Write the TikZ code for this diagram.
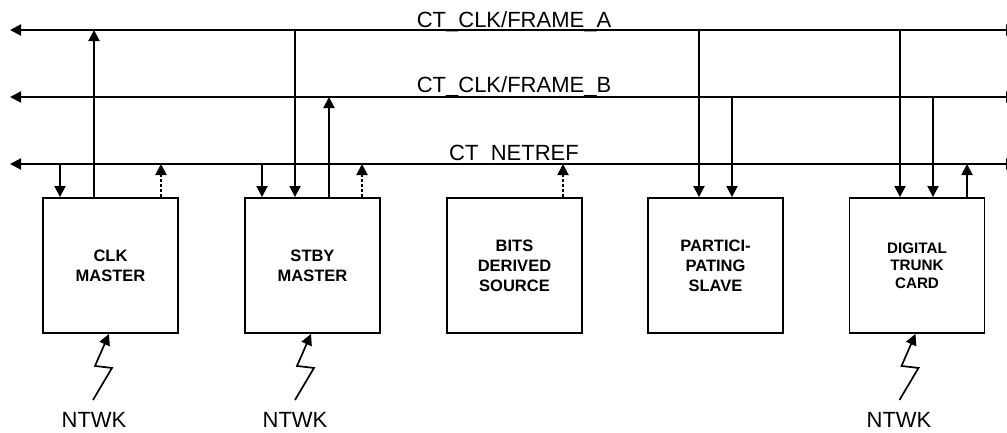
\documentclass[tikz,border=0pt]{standalone}
\usepackage{fontspec}
\setmainfont{Liberation Sans}
\usetikzlibrary{arrows.meta}
\begin{document}
\begin{tikzpicture}[x=1pt,y=-1pt,
  line width=1.9pt,
  tip/.style={-{Triangle[length=11pt,width=11pt]}},
  bustip/.style={{Triangle[length=11pt,width=11pt]}-{Triangle[length=11pt,width=11pt]}},
  card/.style={draw, minimum width=135pt, minimum height=135pt, inner sep=0pt, align=center, font=\fontsize{16.5}{20}\selectfont\bfseries},
  smallcard/.style={card, font=\fontsize{15.2}{17.5}\selectfont\bfseries},
  buslabel/.style={anchor=base, font=\fontsize{22}{26}\selectfont, inner sep=0pt},
  dashtip/.style={tip, dash pattern=on 3pt off 2pt},
  bolt/.style={tip, line width=1.7pt, line join=miter}
]
\useasboundingbox (0,0) rectangle (1007,432);
\clip (0,0) rectangle (1007,432);

% buses
\coordinate (AL) at (10,30);  \coordinate (AR) at (1017,30);
\coordinate (BL) at (10,97);  \coordinate (BR) at (1017,97);
\coordinate (NL) at (10,164); \coordinate (NR) at (1017,164);
\draw[bustip] (AL) -- (AR);
\draw[bustip] (BL) -- (BR);
\draw[bustip] (NL) -- (NR);

\node[buslabel] (la) at (514,27) {CT\_CLK/FRAME\_A};
\node[buslabel] (lb) at (514,92) {CT\_CLK/FRAME\_B};
\node[buslabel] (ln) at (514,160.5) {CT\_NETREF};

% cards
\node[card] (c1) at (110.5,265.5) {CLK\\MASTER};
\node[card] (c2) at (312.5,265.5) {STBY\\MASTER};
\node[card] (c3) at (514.5,265.5) {BITS\\DERIVED\\SOURCE};
\node[card] (c4) at (715.5,265.5) {PARTICI-\\PATING\\SLAVE};
\node[smallcard] (c5) at (917,265.5) {DIGITAL\\TRUNK\\CARD};

% connection points on card tops
\coordinate (t1a) at ([xshift=-50.5pt]c1.north);
\coordinate (t1b) at ([xshift=-16.5pt]c1.north);
\coordinate (t1c) at ([xshift=50.5pt]c1.north);
\coordinate (t2a) at ([xshift=-50.5pt]c2.north);
\coordinate (t2b) at ([xshift=-17.5pt]c2.north);
\coordinate (t2c) at ([xshift=16.5pt]c2.north);
\coordinate (t2d) at ([xshift=49.5pt]c2.north);
\coordinate (t3a) at ([xshift=48.5pt]c3.north);
\coordinate (t4a) at ([xshift=-16.5pt]c4.north);
\coordinate (t4b) at ([xshift=16.5pt]c4.north);
\coordinate (t5a) at ([xshift=-17pt]c5.north);
\coordinate (t5b) at ([xshift=16pt]c5.north);
\coordinate (t5c) at ([xshift=50pt]c5.north);

% card 1
\draw[tip] (t1a |- NL) -- (t1a);
\draw[tip] (t1b) -- (t1b |- AL);
\draw[dashtip] (t1c) -- (t1c |- NL);
% card 2
\draw[tip] (t2a |- NL) -- (t2a);
\draw[tip] (t2b |- AL) -- (t2b);
\draw[tip] (t2c) -- (t2c |- BL);
\draw[dashtip] (t2d) -- (t2d |- NL);
% card 3
\draw[dashtip] (t3a) -- (t3a |- NL);
% card 4
\draw[tip] (t4a |- AL) -- (t4a);
\draw[tip] (t4b |- BL) -- (t4b);
% card 5
\draw[tip] (t5a |- AL) -- (t5a);
\draw[tip] (t5b |- BL) -- (t5b);
\draw[tip] (t5c) -- (t5c |- NL);

% network links
\coordinate (z1) at ([xshift=-17.5pt,yshift=-66pt]c1.south);
\coordinate (z2) at ([xshift=-17.5pt,yshift=-66pt]c2.south);
\coordinate (z5) at ([xshift=-17.5pt,yshift=-66pt]c5.south);
\draw[bolt] (z1) -- ++(19,-32) -- ++(-17,-2) -- ([xshift=-1.5pt]c1.south);
\draw[bolt] (z2) -- ++(19,-32) -- ++(-17,-2) -- ([xshift=-1.5pt]c2.south);
\draw[bolt] (z5) -- ++(19,-32) -- ++(-17,-2) -- ([xshift=-1.5pt]c5.south);

\node[buslabel] (n1) at (94,427.5) {NTWK};
\node[buslabel] (n2) at (295,427.5) {NTWK};
\node[buslabel] (n5) at (899,427.5) {NTWK};
\end{tikzpicture}
\end{document}
